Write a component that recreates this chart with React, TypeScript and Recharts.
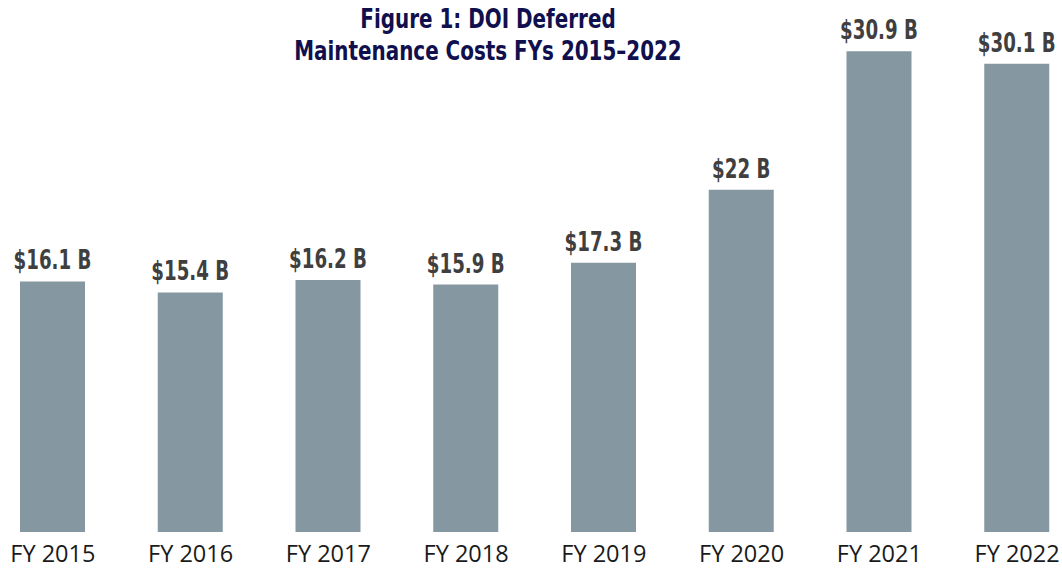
import React from 'react';
import { BarChart, Bar, XAxis, YAxis, LabelList } from 'recharts';

const years = ['FY 2015', 'FY 2016', 'FY 2017', 'FY 2018', 'FY 2019', 'FY 2020', 'FY 2021', 'FY 2022'];
const costs = [16.1, 15.4, 16.2, 15.9, 17.3, 22, 30.9, 30.1];
const costLabels = ['$16.1 B', '$15.4 B', '$16.2 B', '$15.9 B', '$17.3 B', '$22 B', '$30.9 B', '$30.1 B'];

const data = years.map((year, i) => ({ year, cost: costs[i], label: costLabels[i] }));

const condensed = '"DejaVu Sans Condensed", "DejaVu Sans", sans-serif';

// narrow bold label, squeezed horizontally around the bar centre
const ValueLabel = (props: any) => {
  const { x, y, width, value } = props;
  const cx = Number(x) + Number(width) / 2;
  return (
    <text
      x={cx}
      y={Number(y) - 12}
      textAnchor="middle"
      fill="#3f3f3f"
      fontFamily={condensed}
      fontWeight="bold"
      fontSize={27}
      transform={`translate(${cx} 0) scale(0.75 1) translate(${-cx} 0)`}
    >
      {value}
    </text>
  );
};

const App: React.FC = () => {
  return (
    <div style={{ position: 'absolute', left: 0, top: 0, width: 1062, height: 568, background: '#ffffff' }}>
      <div
        style={{
          position: 'absolute',
          left: 0,
          top: 3,
          width: 976,
          textAlign: 'center',
          fontFamily: condensed,
          fontWeight: 'bold',
          fontSize: 27,
          lineHeight: '32px',
          color: '#10104e',
          transform: 'scaleX(0.82)',
          zIndex: 2,
        }}
      >
        Figure 1: DOI Deferred
        <br />
        Maintenance Costs FYs 2015–2022
      </div>
      <BarChart
        width={1062}
        height={568}
        data={data}
        margin={{ top: 3, right: -24, bottom: 0, left: -16 }}
        barSize={65}
      >
        <YAxis hide domain={[0, 34]} />
        <XAxis
          dataKey="year"
          axisLine={false}
          tickLine={false}
          height={36}
          interval={0}
          tick={{ fill: '#1a1a1a', fontSize: 23.5, fontFamily: '"Open Sans", sans-serif' }}
          dy={5}
        />
        <Bar dataKey="cost" fill="#8597a1" isAnimationActive={false}>
          <LabelList dataKey="label" content={ValueLabel} />
        </Bar>
      </BarChart>
    </div>
  );
};

export default App;
